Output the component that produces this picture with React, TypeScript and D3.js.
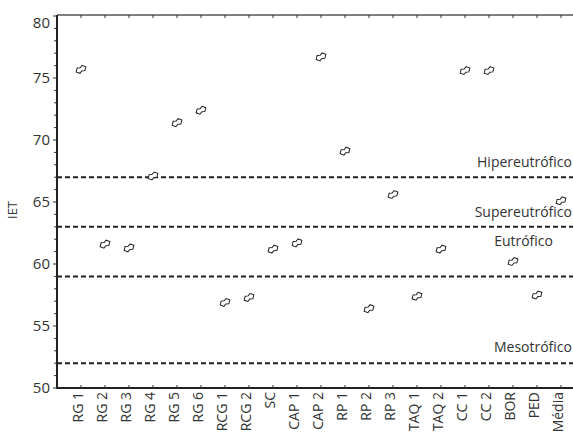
import React from 'react'
import * as d3 from 'd3'

const categories = ['RG 1', 'RG 2', 'RG 3', 'RG 4', 'RG 5', 'RG 6', 'RCG 1', 'RCG 2', 'SC', 'CAP 1', 'CAP 2',
  'RP 1', 'RP 2', 'RP 3', 'TAQ 1', 'TAQ 2', 'CC 1', 'CC 2', 'BOR', 'PED', 'Média']
const iet = [75.7, 61.6, 61.3, 67.1, 71.4, 72.4, 56.9, 57.3, 61.2, 61.7, 76.7,
  69.1, 56.4, 65.6, 57.4, 61.2, 75.6, 75.6, 60.2, 57.5, 65.1]
const levels = [67, 63, 59, 52]
const levelNames = ['Hipereutrófico', 'Supereutrófico', 'Eutrófico', 'Mesotrófico']
const yTicks = [50, 55, 60, 65, 70, 75, 80]

const width = 573
const height = 433
const left = 57
const top = 16
const bottom = 388

const x = d3.scalePoint<string>().domain(categories).range([81, 561])
const y = d3.scaleLinear().domain([50, 80]).range([bottom, top])
const minor = d3.range(50, 81, 1)

const font = "'Open Sans', 'Noto Sans', sans-serif"
const marker = 'M-5.5,0 L-2.8,-3 L0,-1.8 L2.8,-3 L5.5,0 L2.8,3 L0,1.8 L-2.8,3 Z'

export default function App () {
  return (
    <svg width={width} height={height} style={{ position: 'absolute', left: 0, top: 0 }}
      fontFamily={font}>
      <rect width={width} height={height} fill='#fff' />

      {/* frame */}
      <line x1={left} x2={width} y1={top - 1} y2={top - 1} stroke='#555' strokeWidth={1.5} />
      <line x1={left} x2={width} y1={bottom} y2={bottom} stroke='#222' strokeWidth={2} />
      <line x1={left} x2={left} y1={top - 1} y2={bottom + 1} stroke='#222' strokeWidth={2} />

      {minor.map(v => (
        <line key={v} x1={left - (v % 5 === 0 ? 4 : 3)} x2={left} y1={y(v)} y2={y(v)} stroke='#333' />
      ))}
      {yTicks.map(v => (
        <text key={v} x={left - 7} y={v === 80 ? y(v) + 7 : y(v)} dy='0.35em' textAnchor='end'
          fontSize={15} fill='#333'>{v}</text>
      ))}
      <text transform={`translate(17,${(top + bottom) / 2 + 8}) rotate(-90)`} textAnchor='middle'
        fontSize={13} fill='#333'>IET</text>

      {categories.map(c => (
        <g key={c}>
          <line x1={x(c)} x2={x(c)} y1={bottom} y2={bottom - 3} stroke='#333' />
          <line x1={x(c)} x2={x(c)} y1={top - 1} y2={top + 2} stroke='#333' />
          <text transform={`translate(${(x(c) ?? 0) + 2},${bottom + 4}) rotate(-90)`} textAnchor='end'
            fontSize={14} fill='#333'>{c}</text>
        </g>
      ))}

      {levels.map(v => (
        <line key={v} x1={left} x2={width} y1={y(v)} y2={y(v)} stroke='#222' strokeWidth={2}
          strokeDasharray='5,3' />
      ))}
      {levels.map((v, i) => (
        <text key={v} x={i === 2 ? 553 : 572} y={y(v) - (i === 3 ? 11 : i === 2 ? 30 : 10)}
          textAnchor='end' fontSize={14} fill='#333'>{levelNames[i]}</text>
      ))}

      {categories.map((c, i) => (
        <path key={c} d={marker} transform={`translate(${x(c)},${y(iet[i])}) rotate(-28)`}
          fill='#fff' stroke='#222' strokeWidth={1} />
      ))}
    </svg>
  )
}
